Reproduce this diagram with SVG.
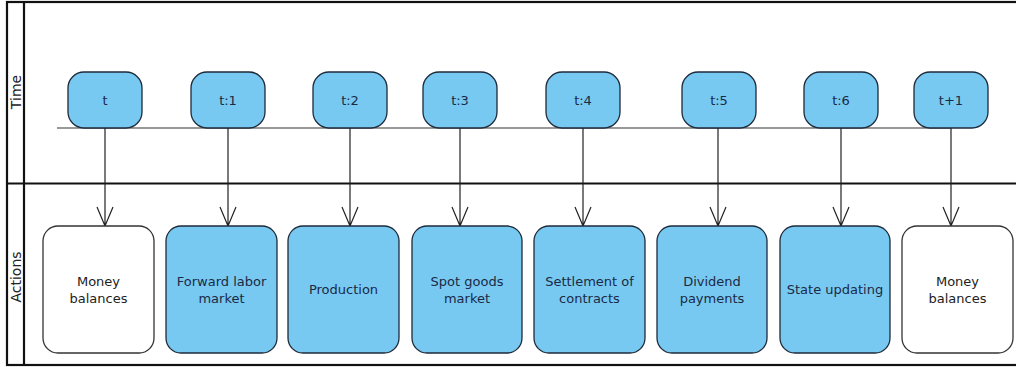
<svg xmlns="http://www.w3.org/2000/svg" width="1016" height="367" viewBox="0 0 1016 367">
<style>
.frame{fill:none;stroke:#111;stroke-width:2.2}
.lane{font-family:"DejaVu Sans",sans-serif;font-size:14px;fill:#222;text-anchor:middle}
.tbox{fill:#78c9f1;stroke:#1e2a3a;stroke-width:1.3}
.abox{fill:#78c9f1;stroke:#1e2a3a;stroke-width:1.3}
.wbox{fill:#fff;stroke:#333;stroke-width:1.3}
.tl{font-family:"DejaVu Sans",sans-serif;font-size:13px;fill:#1a2a45;text-anchor:middle}
.al{font-family:"DejaVu Sans",sans-serif;font-size:13px;fill:#1a2a45;text-anchor:middle}
.wl{font-family:"DejaVu Sans",sans-serif;font-size:13px;fill:#222;text-anchor:middle}
.conn{fill:none;stroke:#222;stroke-width:1.2}
</style>
<rect width="1016" height="367" fill="#fff"/>
<g id="pool">
<rect class="frame" x="7" y="2" width="1020" height="363"/>
<line class="frame" x1="7" y1="183.5" x2="1020" y2="183.5"/>
<line class="frame" x1="24" y1="2" x2="24" y2="365"/>
<text class="lane" transform="translate(21,92) rotate(-90)">Time</text>
<text class="lane" transform="translate(21,277) rotate(-90)">Actions</text>
</g>
<line x1="57" y1="128" x2="951" y2="128" stroke="#333" stroke-width="1.1"/>
<g id="connectors">
<path class="conn" d="M105 128V226M97 207L105 226L113 207"/>
<path class="conn" d="M228 128V226M220 207L228 226L236 207"/>
<path class="conn" d="M350 128V226M342 207L350 226L358 207"/>
<path class="conn" d="M460 128V226M452 207L460 226L468 207"/>
<path class="conn" d="M583 128V226M575 207L583 226L591 207"/>
<path class="conn" d="M718 128V226M710 207L718 226L726 207"/>
<path class="conn" d="M841 128V226M833 207L841 226L849 207"/>
<path class="conn" d="M951 128V226M943 207L951 226L959 207"/>
</g>
<g id="t0"><rect class="tbox" x="68" y="72" width="74" height="56" rx="16"/><text class="tl" x="105" y="104.5">t</text></g>
<g id="t1"><rect class="tbox" x="191" y="72" width="74" height="56" rx="16"/><text class="tl" x="228" y="104.5">t:1</text></g>
<g id="t2"><rect class="tbox" x="313" y="72" width="74" height="56" rx="16"/><text class="tl" x="350" y="104.5">t:2</text></g>
<g id="t3"><rect class="tbox" x="423" y="72" width="74" height="56" rx="16"/><text class="tl" x="460" y="104.5">t:3</text></g>
<g id="t4"><rect class="tbox" x="546" y="72" width="74" height="56" rx="16"/><text class="tl" x="583" y="104.5">t:4</text></g>
<g id="t5"><rect class="tbox" x="682" y="72" width="74" height="56" rx="16"/><text class="tl" x="719" y="104.5">t:5</text></g>
<g id="t6"><rect class="tbox" x="804" y="72" width="74" height="56" rx="16"/><text class="tl" x="841" y="104.5">t:6</text></g>
<g id="t7"><rect class="tbox" x="914" y="72" width="74" height="56" rx="16"/><text class="tl" x="951" y="104.5">t+1</text></g>
<g id="a0"><rect class="wbox" x="43" y="226" width="111" height="127" rx="15"/><text class="wl" x="98.5" y="286">Money</text><text class="wl" x="98.5" y="303">balances</text></g>
<g id="a1"><rect class="abox" x="166" y="226" width="111" height="127" rx="15"/><text class="al" x="221.5" y="286">Forward labor</text><text class="al" x="221.5" y="303">market</text></g>
<g id="a2"><rect class="abox" x="288" y="226" width="111" height="127" rx="15"/><text class="al" x="343.5" y="294">Production</text></g>
<g id="a3"><rect class="abox" x="412" y="226" width="110" height="127" rx="15"/><text class="al" x="467" y="286">Spot goods</text><text class="al" x="467" y="303">market</text></g>
<g id="a4"><rect class="abox" x="534" y="226" width="111" height="127" rx="15"/><text class="al" x="589.5" y="286">Settlement of</text><text class="al" x="589.5" y="303">contracts</text></g>
<g id="a5"><rect class="abox" x="657" y="226" width="110" height="127" rx="15"/><text class="al" x="712" y="286">Dividend</text><text class="al" x="712" y="303">payments</text></g>
<g id="a6"><rect class="abox" x="780" y="226" width="110" height="127" rx="15"/><text class="al" x="835" y="294">State updating</text></g>
<g id="a7"><rect class="wbox" x="902" y="226" width="111" height="127" rx="15"/><text class="wl" x="957.5" y="286">Money</text><text class="wl" x="957.5" y="303">balances</text></g>
</svg>
